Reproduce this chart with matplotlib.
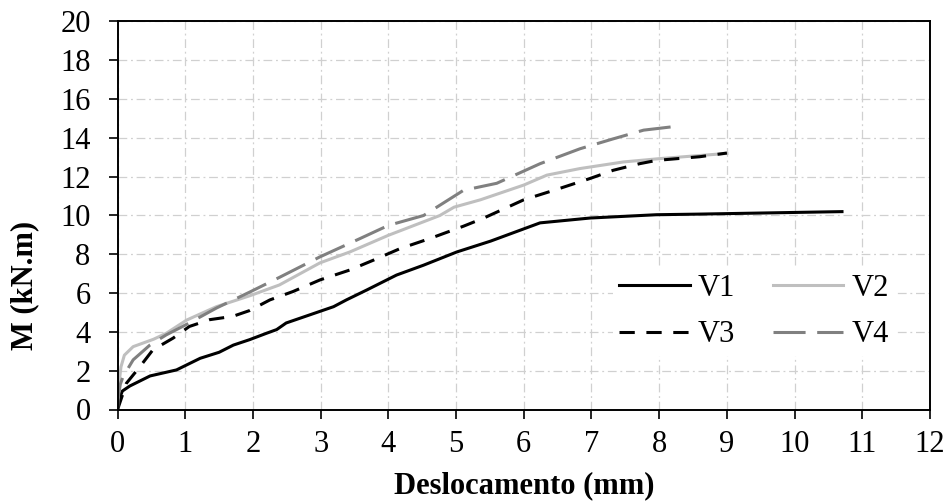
import numpy as np
import matplotlib
matplotlib.use("Agg")
import matplotlib.pyplot as plt

plt.rcParams['font.family'] = ['Liberation Serif', 'DejaVu Serif']
plt.rcParams['font.size'] = 22

# dados: deslocamento (mm) x momento (kN.m)
v1_x = [0, 0.02, 0.07, 0.18, 0.48, 0.87, 1.22, 1.5, 1.71, 1.95, 2.20, 2.35, 2.49, 2.84, 3.19,
        3.38, 3.68, 4.12, 4.52, 5.01, 5.51, 6.24, 6.98, 7.96, 8.56, 10.7]
v1_y = [0, 0.5, 0.95, 1.21, 1.73, 2.04, 2.64, 2.95, 3.32, 3.6, 3.93, 4.12, 4.46, 4.88, 5.30,
        5.65, 6.16, 6.93, 7.44, 8.12, 8.68, 9.62, 9.87, 10.04, 10.07, 10.2]

v2_x = [0, 0.02, 0.05, 0.1, 0.23, 0.53, 0.72, 1.02, 1.46, 1.95, 2.39, 2.99, 3.43, 4.0, 4.76,
        4.97, 5.36, 6.0, 6.34, 6.83, 7.47, 8.0, 9.0]
v2_y = [0, 1.3, 2.2, 2.8, 3.24, 3.62, 3.93, 4.61, 5.30, 5.86, 6.42, 7.56, 8.12, 8.98, 10.0,
        10.43, 10.81, 11.57, 12.08, 12.42, 12.76, 12.93, 13.2]

v3_x = [0, 0.03, 0.13, 0.33, 0.52, 0.82, 1.06, 1.36, 1.70, 1.95, 2.25, 2.59, 2.99, 3.43, 3.78,
        4.17, 4.61, 5.11, 5.41, 6.0, 6.49, 6.98, 7.32, 7.71, 7.96, 8.6, 9.0]
v3_y = [0, 0.31, 1.35, 2.21, 3.07, 3.68, 4.28, 4.63, 4.80, 5.1, 5.65, 6.08, 6.68, 7.19, 7.70,
        8.29, 8.81, 9.45, 9.87, 10.81, 11.35, 11.91, 12.33, 12.67, 12.84, 13.03, 13.22]

v4_x = [0, 0.01, 0.04, 0.08, 0.23, 0.48, 0.72, 1.01, 1.46, 1.95, 2.39, 2.99, 3.58, 4.0, 4.52,
        5.11, 5.60, 6.24, 6.83, 7.32, 7.77, 8.21]
v4_y = [0, 0.66, 1.3, 1.69, 2.56, 3.33, 3.85, 4.37, 5.23, 6.05, 6.81, 7.87, 8.81, 9.49, 10.0,
        11.3, 11.66, 12.67, 13.44, 13.95, 14.4, 14.58]

fig = plt.figure(figsize=(9.49, 5.01), dpi=100)
ax = fig.add_axes([117.6/949, 91.5/501, (930-117.6)/949, (409.5-21.5)/501])

l1, = ax.plot(v1_x, v1_y, color='black', lw=2.2, label='V1')
l2, = ax.plot(v2_x, v2_y, color='#bfbfbf', lw=2.2, label='V2')
l3, = ax.plot(v3_x, v3_y, color='black', lw=2.2, linestyle=(0, (5, 3.8)), label='V3')
l4, = ax.plot(v4_x, v4_y, color='#808080', lw=2.2, linestyle=(0, (10.5, 3.8)), label='V4')

ax.set_xlim(0, 12)
ax.set_ylim(0, 20)
ax.set_xticks(np.arange(0, 13, 1))
ax.set_yticks(np.arange(0, 21, 2))
ax.grid(True, color='#d0d0d0', lw=0.9, linestyle=(0, (7, 3, 1.5, 3)))
ax.set_axisbelow(True)
ax.tick_params(axis='both', direction='out', length=6.5, width=1.2, color='black')
ax.tick_params(axis='x', pad=8)
ax.tick_params(axis='y', pad=13)
for s in ax.spines.values():
    s.set_linewidth(1.4)
    s.set_color('black')

# ordem das colunas: V1/V3 na primeira, V2/V4 na segunda
leg = ax.legend([l1, l3, l2, l4], ['V1', 'V3', 'V2', 'V4'], ncol=2, loc='lower left',
                bbox_to_anchor=(0.61, 0.139), frameon=True,
                edgecolor='none', facecolor='white', framealpha=1, fancybox=False,
                handlelength=2.3, handletextpad=0.26, columnspacing=1.25,
                labelspacing=0.57, borderpad=0.2, borderaxespad=0)

fig.text((117.6+930)/2/949, 7.7/501, 'Deslocamento (mm)', ha='center', va='baseline',
         fontweight='bold')
fig.text(25/949, 215.5/501, 'M (kN.m)', ha='center', va='center', rotation=90,
         fontweight='bold')

fig.savefig('out.png', dpi=100)
